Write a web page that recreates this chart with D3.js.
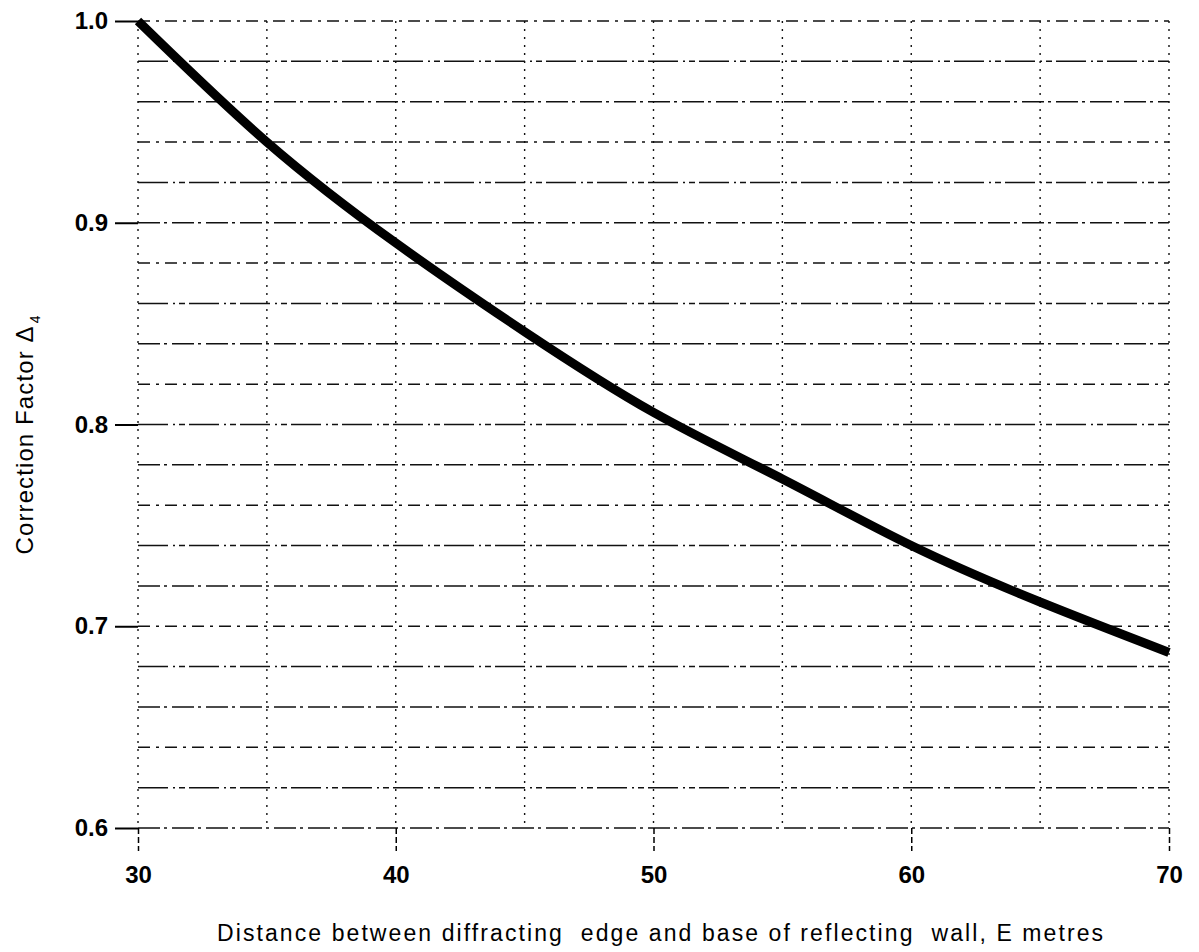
<!DOCTYPE html>
<html><head><meta charset="utf-8">
<script src="https://cdn.jsdelivr.net/npm/d3@7"></script>
<style>body{margin:0;background:#fff;}svg{display:block;}</style>
</head><body>
<script>
const distances = [30, 35, 40, 45, 50, 55, 60, 65, 70];
const correction = [1.0, 0.94, 0.89, 0.846, 0.806, 0.773, 0.74, 0.712, 0.687];
const xTicks = [30, 40, 50, 60, 70];
const yTicks = [0.6, 0.7, 0.8, 0.9, 1.0];
const xGrid = [30, 35, 40, 45, 50, 55, 60, 65, 70];
const yGrid = d3.range(0, 21).map(i => +(0.6 + i * 0.02).toFixed(2));

const W = 1199, H = 952;
const svg = d3.select("body").append("svg").attr("width", W).attr("height", H);
const x = d3.scaleLinear().domain([30, 70]).range([138, 1169]);
const y = d3.scaleLinear().domain([0.6, 1.0]).range([828, 21]);
const font = "'Liberation Sans', Arial, Helvetica, sans-serif";

// horizontal grid
svg.append("g").selectAll("line").data(yGrid).join("line")
  .attr("x1", x(30)).attr("x2", x(70))
  .attr("y1", d => y(d)).attr("y2", d => y(d))
  .attr("stroke", "#111").attr("stroke-width", 1.5)
  .attr("stroke-dasharray", (d, i) => i % 3 === 0 ? "22,4,3,5" : (i % 3 === 1 ? "30,5,2,4,6,4" : "12,6,3,6"));
// vertical grid
svg.append("g").selectAll("line").data(xGrid).join("line")
  .attr("x1", d => x(d)).attr("x2", d => x(d))
  .attr("y1", y(1.0)).attr("y2", y(0.6))
  .attr("stroke", "#111").attr("stroke-width", 1.4)
  .attr("stroke-dasharray", "2,6");

// axes
const yAxis = d3.axisLeft(y).tickValues(yTicks).tickFormat(d3.format(".1f")).tickSize(23).tickPadding(7);
const gy = svg.append("g").attr("transform", `translate(${x(30)},0)`).call(yAxis);
gy.select(".domain").remove();
gy.selectAll(".tick line").attr("stroke", "#000").attr("stroke-width", 2);
gy.selectAll(".tick text").attr("font-family", font).attr("font-weight", "bold").attr("font-size", 24).attr("fill", "#000");

const xAxis = d3.axisBottom(x).tickValues(xTicks).tickFormat(d3.format("d")).tickSize(23).tickPadding(15);
const gx = svg.append("g").attr("transform", `translate(0,${y(0.6)})`).call(xAxis);
gx.select(".domain").remove();
gx.selectAll(".tick line").attr("stroke", "#000").attr("stroke-width", 1.5).attr("stroke-dasharray", "6,3");
gx.selectAll(".tick text").attr("font-family", font).attr("font-weight", "bold").attr("font-size", 24).attr("fill", "#000");

// curve
const line = d3.line().x((d, i) => x(d)).y((d, i) => y(correction[i])).curve(d3.curveNatural);
svg.append("path").datum(distances).attr("d", line)
  .attr("fill", "none").attr("stroke", "#000").attr("stroke-width", 9);

// axis titles
svg.append("text").attr("x", 660).attr("y", 941).attr("text-anchor", "middle")
  .attr("font-family", font).attr("font-size", 23).attr("fill", "#000")
  .attr("textLength", 886).attr("lengthAdjust", "spacing")
  .style("white-space", "pre")
  .text("Distance between diffracting  edge and base of reflecting  wall, E metres");

const yl = svg.append("text").attr("transform", "translate(33,435) rotate(-90)")
  .attr("text-anchor", "middle").attr("font-family", font).attr("font-size", 24).attr("fill", "#000");
yl.append("tspan").attr("textLength", 228).attr("lengthAdjust", "spacing").text("Correction Factor \u0394");
yl.append("tspan").attr("dy", 7).attr("dx", 2).attr("font-size", 14).text("4");
</script>
</body></html>
